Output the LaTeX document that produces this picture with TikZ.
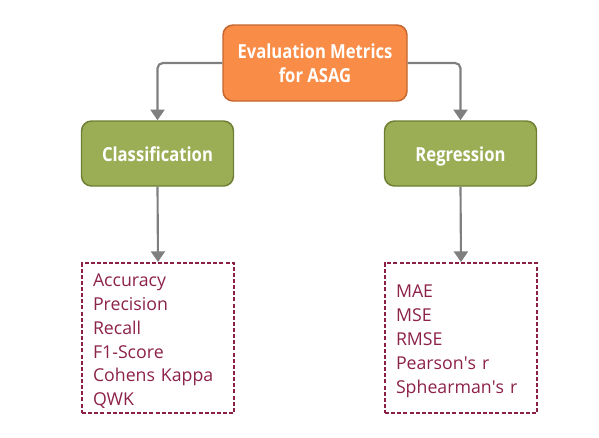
\documentclass[tikz,border=0pt]{standalone}
\usepackage{fontspec}
\setmainfont{Open Sans}
\newfontfamily\headfont{Open Sans}[BoldFeatures={FakeStretch=0.86}]
\usetikzlibrary{arrows.meta}
\definecolor{rootfill}{HTML}{F98C47}
\definecolor{rootline}{HTML}{C4662E}
\definecolor{catfill}{HTML}{9BAE56}
\definecolor{catline}{HTML}{6E7F34}
\definecolor{listtext}{HTML}{8C2149}
\definecolor{listline}{HTML}{8B2142}
\definecolor{linkgray}{HTML}{7F7F7F}
\tikzset{
  rootbox/.style={draw=rootline, fill=rootfill, line width=1.1pt, rounded corners=7.5pt,
    minimum width=138pt, minimum height=57pt, text=white, align=center,
    font=\headfont\fontsize{14.5}{18}\selectfont\bfseries},
  catbox/.style={draw=catline, fill=catfill, line width=1.1pt, rounded corners=7.5pt,
    minimum width=114pt, minimum height=48.75pt, text=white,
    text height=12.3pt, text depth=0pt,
    font=\headfont\fontsize{14.5}{18}\selectfont\bfseries},
  listbox/.style={draw=listline, line width=1.4pt, dash pattern=on 3pt off 1.6pt,
    minimum width=114pt, minimum height=112.5pt, inner xsep=8.25pt,
    text width=97.5pt, align=left, text=listtext,
    execute at begin node={\rule{0pt}{14.5pt}},
    font=\fontsize{13.3}{17.85}\selectfont},
  link/.style={draw=linkgray, line width=1.6pt, rounded corners=4pt,
    -{Triangle[width=10.5pt,length=8pt]}}
}
\begin{document}
\begin{tikzpicture}[x=0.75pt, y=-0.75pt]
      \useasboundingbox (0,0) rectangle (599,437);
      \node[rootbox] (root) at (315, 63) {Evaluation Metrics\\for ASAG};

      \node[catbox] (cls) at (157.5, 153.5) {Classification};
      \node[catbox] (reg) at (460.5, 153.5) {Regression};

      \node[listbox] (clslist) at (158, 338) {Accuracy\\Precision\\Recall\\F1-Score\\Cohens Kappa\\QWK};
      \node[listbox] (reglist) at (461, 338) {MAE\\MSE\\RMSE\\Pearson\textquotesingle s r\\Sphearman\textquotesingle s r};

      \draw[link] (root.west) -| (cls.north);
      \draw[link] (root.east) -| (reg.north);
      \draw[link] (cls.south) -- (clslist.north);
      \draw[link] (reg.south) -- (reglist.north);
    \end{tikzpicture}
\end{document}
